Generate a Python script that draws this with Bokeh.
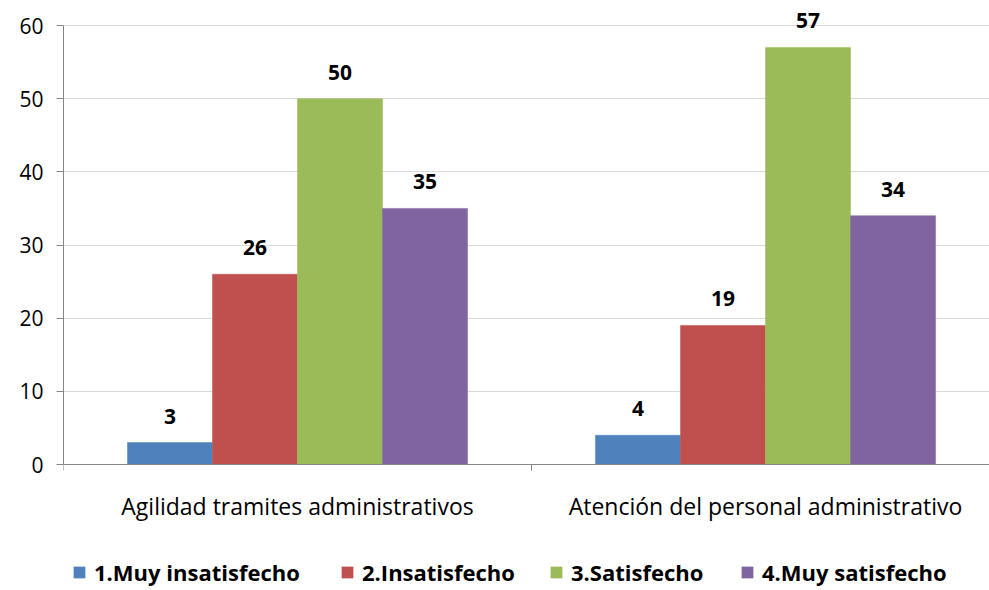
import numpy as np
from bokeh.plotting import figure
from bokeh.models import FixedTicker, Legend, LegendItem, Range1d, ColumnDataSource
from bokeh.core.properties import value
from bokeh.embed import file_html
from bokeh.resources import INLINE

categories = ["Agilidad tramites administrativos", "Atención del personal administrativo"]
series_names = ["1.Muy insatisfecho", "2.Insatisfecho", "3.Satisfecho", "4.Muy satisfecho"]
muy_insatisfecho = [3, 4]
insatisfecho = [26, 19]
satisfecho = [50, 57]
muy_satisfecho = [35, 34]
series_values = [muy_insatisfecho, insatisfecho, satisfecho, muy_satisfecho]
colors = ["#4F81BD", "#C0504D", "#9BBB59", "#8064A2"]
y_ticks = [0, 10, 20, 30, 40, 50, 60]

FONT = "Open Sans"
AXIS_COLOR = "#868686"
PX_PER_UNIT = 439 / 60.0

p = figure(frame_width=926, frame_height=580, output_backend="svg", toolbar_location=None,
           x_range=Range1d(0, 926 / 468),
           y_range=Range1d(-126 / PX_PER_UNIT, 454 / PX_PER_UNIT),
           min_border_left=63, min_border_right=0, min_border_top=10, min_border_bottom=0)
p.outline_line_color = None
p.background_fill_color = "white"
p.border_fill_color = "white"

bar_w = 85 / 468
cat_x = np.arange(len(categories)) + 0.5
renderers = []
for i, (name, vals, col) in enumerate(zip(series_names, series_values, colors)):
    xs = cat_x + (i - 1.5) * bar_w
    src = ColumnDataSource(dict(x=xs, top=vals, label=[str(v) for v in vals]))
    r = p.vbar(x="x", top="top", width=bar_w, source=src, fill_color=col,
               line_color=col, line_width=0.5)
    p.text(x="x", y="top", text="label", source=src, text_font=value(FONT),
           text_font_style="bold", text_font_size="21px", text_align="center",
           text_baseline="bottom", y_offset=-19, text_color="black")
    renderers.append(r)

# y axis
p.yaxis.ticker = FixedTicker(ticks=y_ticks)
p.yaxis.bounds = (0, 60)
p.yaxis.axis_line_color = AXIS_COLOR
p.yaxis.major_tick_line_color = AXIS_COLOR
p.yaxis.major_tick_out = 7
p.yaxis.major_tick_in = 0
p.yaxis.minor_tick_line_color = None
p.yaxis.major_label_text_font = FONT
p.yaxis.major_label_text_font_size = "21px"
p.yaxis.major_label_text_color = "black"
p.yaxis.major_label_standoff = 13

# x axis, drawn at y = 0
p.xaxis.fixed_location = 0
p.xaxis.ticker = FixedTicker(ticks=list(cat_x), minor_ticks=[0, 1, 2])
p.xaxis.major_label_overrides = {float(x): c for x, c in zip(cat_x, categories)}
p.xaxis.axis_line_color = AXIS_COLOR
p.xaxis.major_tick_line_color = None
p.xaxis.major_tick_out = 0
p.xaxis.major_tick_in = 0
p.xaxis.minor_tick_line_color = AXIS_COLOR
p.xaxis.minor_tick_out = 6
p.xaxis.minor_tick_in = 0
p.xaxis.major_label_text_font = FONT
p.xaxis.major_label_text_font_size = "23px"
p.xaxis.major_label_text_color = "black"
p.xaxis.major_label_standoff = 19

p.xgrid.grid_line_color = None
p.ygrid.grid_line_color = "#D9D9D9"
p.ygrid.grid_line_width = 1

legend_x = [9, 277, 486, 677]
for name, r, lx in zip(series_names, renderers, legend_x):
    lg = Legend(items=[LegendItem(label=name, renderers=[r])],
                location=(lx, 3), orientation="horizontal",
                border_line_color=None, background_fill_alpha=0,
                label_text_font=FONT, label_text_font_style="bold",
                label_text_font_size="22px", label_text_color="black",
                glyph_width=14, glyph_height=14, label_standoff=8, label_height=20,
                margin=0, padding=0)
    p.add_layout(lg, "center")

open("out.html", "w").write(file_html(p, INLINE))
